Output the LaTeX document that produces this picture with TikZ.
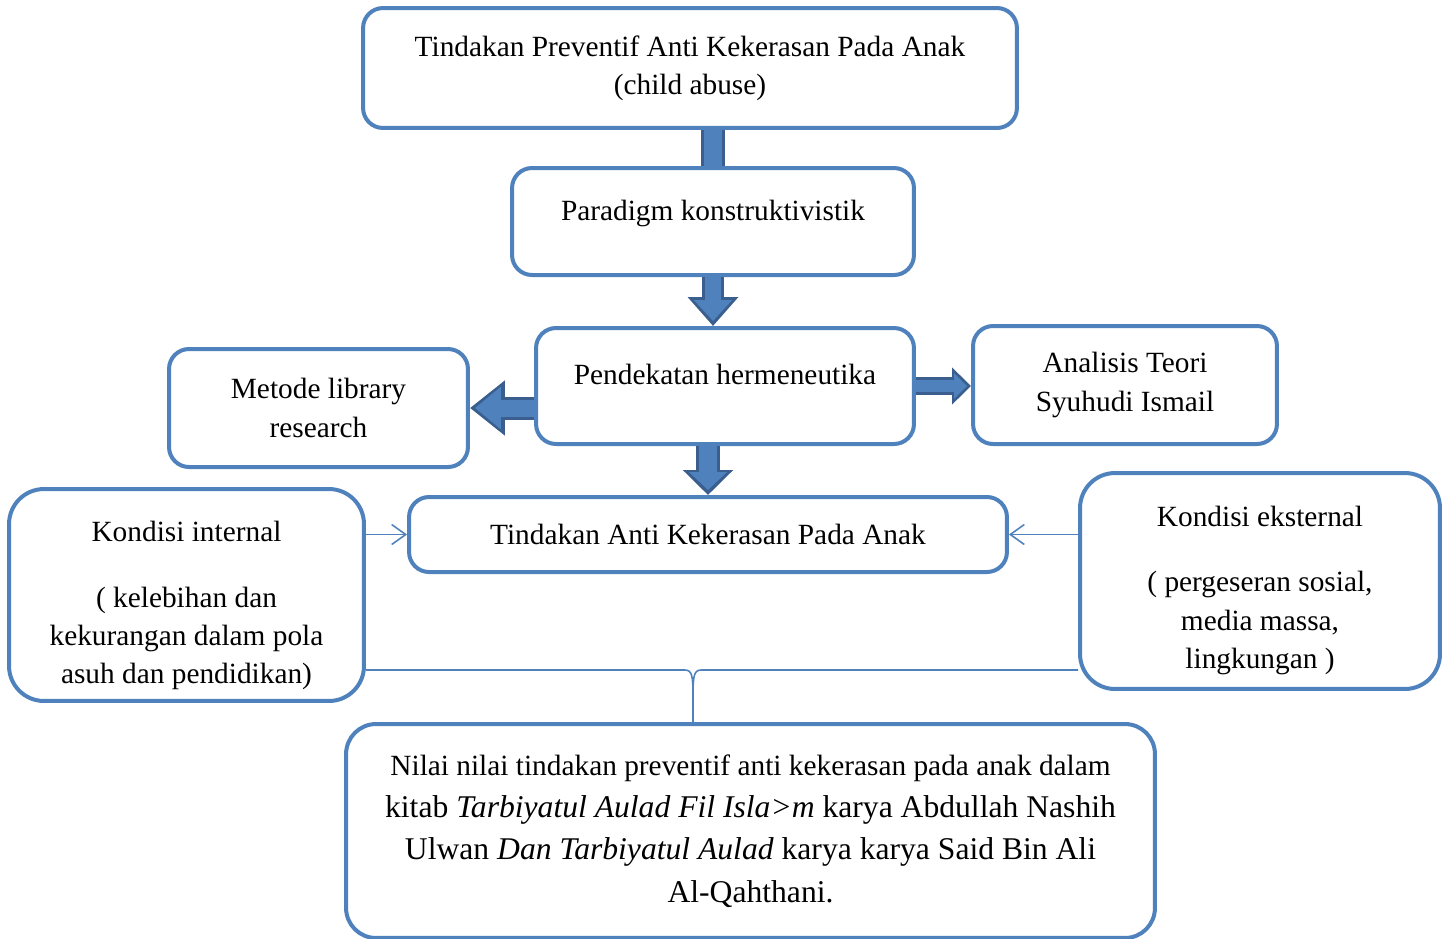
\documentclass[tikz,border=0pt]{standalone}
\usepackage{fontspec}
\setmainfont{Liberation Serif}
\usepackage{tikz}
\usetikzlibrary{arrows.meta,positioning,calc}
\definecolor{boxline}{HTML}{4F81BD}
\definecolor{arrfill}{HTML}{4F81BD}
\definecolor{arrdark}{HTML}{3A5F8F}

\begin{document}
\begin{tikzpicture}[
  x=0.02cm, y=-0.02cm,
  box/.style={draw=boxline, line width=0.08cm, rounded corners=0.4cm, align=center, font=\fontsize{16.7}{21.8}\selectfont, inner sep=2pt},
  bigtext/.style={font=\fontsize{18}{24}\selectfont},
  fatout/.style={arrdark, line width=#1},
  fatin/.style={arrfill, line width=#1},
  thinarr/.style={boxline, line width=0.9pt, -{Straight Barb[length=0.28cm, width=0.4cm]}}
]
  \clip (0,0) rectangle (1447,938);

  % main column
  \node[box, minimum width=13.08cm, minimum height=2.4cm] (top) at (690,68)
    {Tindakan Preventif Anti Kekerasan Pada Anak\\(child abuse)};
  \node[box, minimum width=8.04cm, minimum height=2.14cm] (par) at (713,221.5)
    {\raisebox{0.46cm}{Paradigm konstruktivistik}};
  \node[box, minimum width=7.56cm, minimum height=2.32cm] (pen) at (725,386)
    {\raisebox{0.46cm}{Pendekatan hermeneutika}};
  \node[box, minimum width=5.98cm, minimum height=2.36cm] (met) at (318.5,408)
    {Metode library\\research};
  \node[box, minimum width=6.08cm, minimum height=2.36cm] (ana) at (1125,385)
    {Analisis Teori\\Syuhudi Ismail};
  \node[box, minimum width=11.96cm, minimum height=1.5cm] (tin) at (708,534.5)
    {Tindakan Anti Kekerasan Pada Anak};

  % side conditions
  \node[box, rounded corners=0.7cm, minimum width=7.1cm, minimum height=4.24cm] (int) at (186.5,595)
    {\rule{0pt}{0.83cm}Kondisi internal\\[0.55cm]( kelebihan dan\\kekurangan dalam pola\\asuh dan pendidikan)};
  \node[box, rounded corners=0.7cm, minimum width=7.2cm, minimum height=4.32cm] (eks) at (1260,581)
    {\rule{0pt}{0.78cm}Kondisi eksternal\\[0.55cm]( pergeseran sosial,\\media massa,\\lingkungan )};

  % result
  \node[box, bigtext, rounded corners=0.6cm, minimum width=16.18cm, minimum height=4.28cm] (nil) at (750.5,831)
    {{\fontsize{16.7}{23}\selectfont Nilai nilai tindakan preventif anti kekerasan pada anak dalam}\\
     kitab \textit{Tarbiyatul Aulad Fil Isla>m} karya Abdullah Nashih\\
     Ulwan \textit{Dan Tarbiyatul Aulad} karya karya Said Bin Ali\\
     Al-Qahthani.};

  % block arrows
  \draw[fatout=0.48cm] (par.north |- top.south) -- (par.north);
  \draw[fatin=0.36cm] ($(par.north |- top.south)+(0,-2)$) -- (par.north);

  \draw[fatout=0.44cm, -{Triangle[width=0.98cm, length=0.58cm]}] (par.south) -- (par.south |- pen.north);
  \draw[fatin=0.32cm, shorten >=0.1cm, -{Triangle[width=0.74cm, length=0.42cm]}] ($(par.south)+(0,-2)$) -- (par.south |- pen.north);

  \draw[fatout=0.48cm, -{Triangle[width=0.98cm, length=0.5cm]}] (tin.north |- pen.south) -- (tin.north);
  \draw[fatin=0.36cm, shorten >=0.1cm, -{Triangle[width=0.74cm, length=0.36cm]}] ($(tin.north |- pen.south)+(0,-2)$) -- (tin.north);

  \draw[fatout=0.46cm, -{Triangle[width=1.06cm, length=0.7cm]}] (pen.west |- met.east) -- (met.east);
  \draw[fatin=0.34cm, shorten >=0.1cm, -{Triangle[width=0.82cm, length=0.52cm]}] ($(pen.west |- met.east)+(2,0)$) -- (met.east);

  \draw[fatout=0.36cm, -{Triangle[width=0.72cm, length=0.38cm]}] (pen.east) -- (ana.west |- pen.east);
  \draw[fatin=0.24cm, shorten >=0.08cm, -{Triangle[width=0.5cm, length=0.26cm]}] ($(pen.east)+(-2,0)$) -- (ana.west |- pen.east);

  % thin arrows
  \draw[thinarr] (int.east |- tin.west) -- (tin.west);
  \draw[thinarr] (eks.west |- tin.east) -- (tin.east);

  % brace to result
  \coordinate (bt) at (693,670);
  \draw[boxline, line width=0.9pt] (int.east |- bt) -- ($(bt)+(-8,0)$)
    .. controls ($(bt)+(-1,0)$) and ($(bt)+(0,6)$) .. ($(bt)+(0,26)$) -- (bt |- nil.north);
  \draw[boxline, line width=0.9pt] (eks.west |- bt) -- ($(bt)+(8,0)$)
    .. controls ($(bt)+(1,0)$) and ($(bt)+(0,6)$) .. ($(bt)+(0,26)$);
\end{tikzpicture}
\end{document}
